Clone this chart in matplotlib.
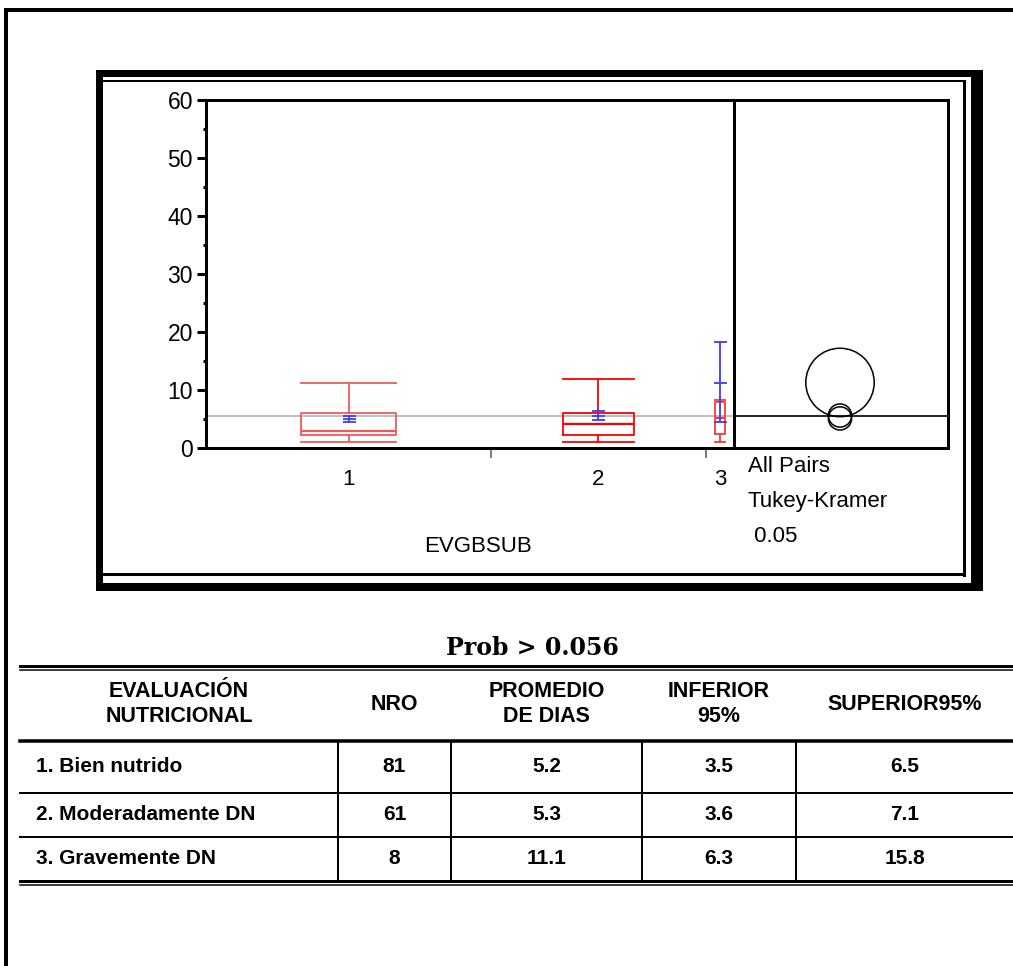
import numpy as np
import matplotlib.pyplot as plt
from matplotlib.patches import Circle, Rectangle
from matplotlib.ticker import FixedLocator, MultipleLocator

W, H = 1013, 966

# box plot values (EVGBSUB groups)
grupos = ['1', '2', '3']
n_obs = [81, 61, 8]
minimo = [1.1, 1.1, 1.1]
q1 = [2.2, 2.2, 2.4]
mediana = [3.0, 4.1, 5.2]
q3 = [6.0, 6.0, 7.9]
maximo = [11.2, 11.9, 8.2]
media = [5.05, 5.6, 11.2]
media_inf = [4.5, 4.8, 4.5]
media_sup = [5.5, 6.3, 18.3]
media_global = 5.6

# Tukey-Kramer comparison circles
circ_centro = [5.1, 5.6, 11.3]
circ_radio = [2.0, 2.0, 5.9]

# table
prob_txt = 'Prob > 0.056'
encabezados = ['EVALUACIÓN\nNUTRICIONAL', 'NRO', 'PROMEDIO\nDE DIAS', 'INFERIOR\n95%', 'SUPERIOR95%']
filas = ['1. Bien nutrido', '2. Moderadamente DN', '3. Gravemente DN']
nro = ['81', '61', '8']
promedio = ['5.2', '5.3', '11.1']
inferior = ['3.5', '3.6', '6.3']
superior = ['6.5', '7.1', '15.8']

plt.rcParams['font.family'] = ['Liberation Sans', 'DejaVu Sans']


def pt(p):
    # pixels -> points at dpi 100
    return p * 0.72


fig = plt.figure(figsize=(W / 100, H / 100), dpi=100)

# page overlay in pixel coordinates
bg = fig.add_axes([0, 0, 1, 1])
bg.set_xlim(0, W)
bg.set_ylim(H, 0)
bg.axis('off')

# page frame
bg.plot([5, W], [10, 10], color='black', lw=pt(4), solid_capstyle='butt')
bg.plot([6, 6], [8, H], color='black', lw=pt(4), solid_capstyle='butt')

# chart frame (thick outer band + thin inner line)
for x0, y0, x1, y1 in [(96, 70, 983, 77), (96, 70, 103, 591),
                       (96, 583, 983, 591), (971, 70, 983, 591)]:
    bg.add_patch(Rectangle((x0, y0), x1 - x0, y1 - y0, color='black', lw=0))
bg.plot([103, 964], [81, 81], color='black', lw=pt(2))
bg.plot([100, 964], [573.5, 573.5], color='black', lw=pt(3))
bg.plot([964, 964], [81, 575], color='black', lw=pt(3))

# main box plot axes
y_top, y_bot = 100, 448
x_left, x_div, x_right = 206, 734, 948
ax = fig.add_axes([x_left / W, 1 - y_bot / H, (x_div - x_left) / W, (y_bot - y_top) / H])
ax2 = fig.add_axes([x_div / W, 1 - y_bot / H, (x_right - x_div) / W, (y_bot - y_top) / H])

total = sum(n_obs)
bordes = np.concatenate([[0], np.cumsum(n_obs)])
centros = (bordes[:-1] + bordes[1:]) / 2
anchos = np.array(n_obs) / 3.0

stats = []
for i in range(len(grupos)):
    stats.append(dict(med=mediana[i], q1=q1[i], q3=q3[i],
                      whislo=minimo[i], whishi=maximo[i], fliers=[]))

colores_box = ['#f05a5a', 'red', '#f03c3c']
for i in range(len(grupos)):
    c = colores_box[i]
    ax.bxp([stats[i]], positions=[centros[i]], widths=[anchos[i]],
           capwidths=[anchos[i]], showfliers=False, manage_ticks=False,
           boxprops=dict(color=c, lw=1.3), whiskerprops=dict(color=c, lw=1.3),
           capprops=dict(color=c, lw=1.3), medianprops=dict(color=c, lw=1.6))

ax.axhline(media_global, color='#b4b4b4', lw=1.2, zorder=1)

media = np.array(media)
ax.errorbar(centros, media,
            yerr=[media - np.array(media_inf), np.array(media_sup) - media],
            fmt='_', color='#3c3cff', ms=pt(13), mew=1.3, elinewidth=1.3,
            capsize=pt(6.5), capthick=1.3, zorder=4)

ax.set_xlim(0, total)
ax.set_ylim(0, 60)
ax.set_yticks(np.arange(0, 61, 10))
ax.yaxis.set_minor_locator(MultipleLocator(5))
ax.set_xticks(centros)
ax.set_xticklabels(grupos)
ax.xaxis.set_minor_locator(FixedLocator(bordes[1:-1]))
ax.tick_params(axis='y', which='major', length=pt(9), width=pt(3), pad=pt(4),
               labelsize=16.5, direction='out')
ax.tick_params(axis='y', which='minor', length=pt(3), width=pt(3), direction='out')
ax.tick_params(axis='x', which='major', length=0, pad=pt(21), labelsize=16)
ax.tick_params(axis='x', which='minor', length=pt(10), width=pt(2), color='#808080',
               direction='out')
for s in ax.spines.values():
    s.set_linewidth(pt(3))

# comparison circles panel
ppu = (y_bot - y_top) / 60.0
xr = (x_right - x_div) / ppu
ax2.set_xlim(0, xr)
ax2.set_ylim(0, 60)
ax2.axhline(media_global, color='black', lw=1.2)
xc = (840 - x_div) / ppu
for c, r in zip(circ_centro, circ_radio):
    ax2.add_patch(Circle((xc, c), r, fill=False, color='black', lw=1.1))
ax2.set_xticks([])
ax2.set_yticks([])
for s in ax2.spines.values():
    s.set_linewidth(pt(3))

# panel texts
bg.text(478, 546, 'EVGBSUB', ha='center', va='center', fontsize=16)
bg.text(748, 466, 'All Pairs', ha='left', va='center', fontsize=16)
bg.text(748, 501, 'Tukey-Kramer', ha='left', va='center', fontsize=16)
bg.text(748, 537, ' 0.05', ha='left', va='center', fontsize=16)

# table
bg.text(532, 648, prob_txt, ha='center', va='center', fontsize=17,
        fontweight='bold', family='DejaVu Serif')

tx0 = 20
col_x = [tx0, 338, 451, 642, 796, W]
bg.plot([tx0, W], [665.5, 665.5], color='black', lw=pt(3))
bg.plot([tx0, W], [670, 670], color='black', lw=pt(1.5))
bg.plot([tx0, W], [741, 741], color='black', lw=pt(3.5))
bg.plot([tx0, W], [793, 793], color='black', lw=pt(2))
bg.plot([tx0, W], [837, 837], color='black', lw=pt(2))
bg.plot([tx0, W], [880.5, 880.5], color='black', lw=pt(3))
bg.plot([tx0, W], [885, 885], color='black', lw=pt(1.5))
for x in col_x[1:-1]:
    bg.plot([x, x], [741, 880], color='black', lw=pt(2))

col_c = [(col_x[i] + col_x[i + 1]) / 2 for i in range(5)]
for j, h in enumerate(encabezados):
    bg.text(col_c[j], 704, h, ha='center', va='center', fontsize=15.5,
            fontweight='bold', linespacing=1.2)

filas_y = [767, 815, 858.5]
for i, y in enumerate(filas_y):
    bg.text(36, y, filas[i], ha='left', va='center', fontsize=15, fontweight='bold')
    for j, v in enumerate([nro[i], promedio[i], inferior[i], superior[i]]):
        bg.text(col_c[j + 1], y, v, ha='center', va='center', fontsize=15,
                fontweight='bold')

fig.savefig('out.png', dpi=100)
